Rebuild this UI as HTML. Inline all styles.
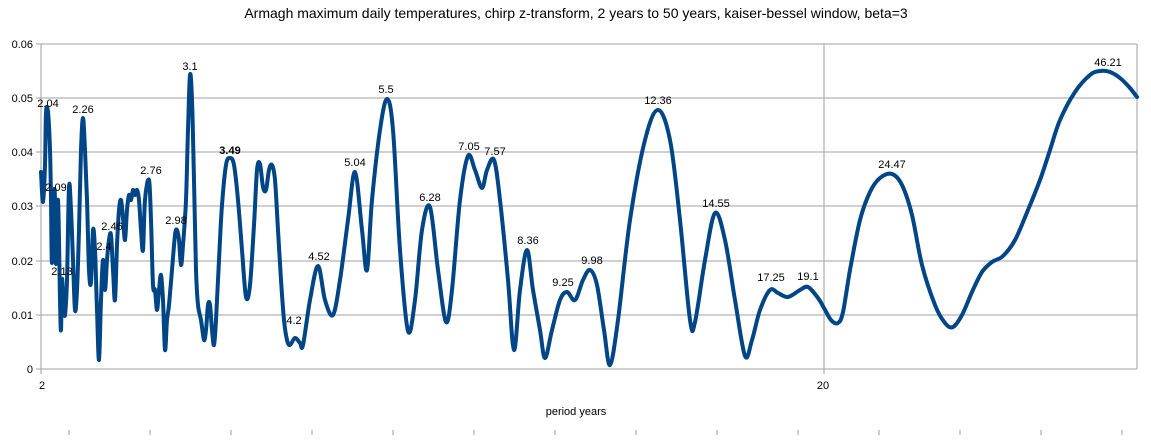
<!DOCTYPE html>
<html><head><meta charset="utf-8"><style>body{margin:0;background:#fff}</style></head><body>
<svg width="1151" height="435" xmlns="http://www.w3.org/2000/svg" font-family="Liberation Sans, sans-serif">
<rect width="1151" height="435" fill="#fff"/>
<text x="576" y="18" font-size="14" text-anchor="middle" fill="#000">Armagh maximum daily temperatures, chirp z-transform, 2 years to 50 years, kaiser-bessel window, beta=3</text>
<g stroke="#b3b3b3" stroke-width="1.3" fill="none">
<line x1="36" y1="44" x2="1137" y2="44"/><line x1="36" y1="98" x2="1137" y2="98"/><line x1="36" y1="152" x2="1137" y2="152"/><line x1="36" y1="206" x2="1137" y2="206"/><line x1="36" y1="261" x2="1137" y2="261"/><line x1="36" y1="315" x2="1137" y2="315"/><line x1="36" y1="369" x2="1137" y2="369"/>
<line x1="41" y1="44" x2="41" y2="374"/><line x1="824" y1="44" x2="824" y2="374"/><line x1="1137" y1="44" x2="1137" y2="369"/>
<path d="M69 430v5M150 430v5M231 430v5M312 430v5M393 430v5M474 430v5M555 430v5M636 430v5M717 430v5M798 430v5M879 430v5M960 430v5M1041 430v5M1122 430v5"/>
</g>
<g font-size="11" fill="#000" text-anchor="end">
<text x="33" y="48">0.06</text><text x="33" y="102">0.05</text><text x="33" y="156">0.04</text><text x="33" y="210">0.03</text><text x="33" y="265">0.02</text><text x="33" y="319">0.01</text><text x="33" y="373">0</text>
</g>
<g font-size="11" fill="#000" text-anchor="middle">
<text x="42" y="389">2</text><text x="823" y="389">20</text><text x="576" y="415">period years</text>
</g>
<polyline id="pl" fill="none" stroke="#004586" stroke-width="4" stroke-linejoin="round" stroke-linecap="round" points="41,172 43,202 45,165 46,113 48,112 50,150 51,200 52,263 54,195 55,200 56,264 58,200 60,300 61,330 62,280 63,295 64,305 65,315 67,280 69,187 71,210 73,260 75,310 77,290 79,230 81,150 83,118 85,150 87,200 89,270 91,282 93,230 95,250 97,310 99,360 101,300 103,260 105,290 107,260 109,240 111,235 113,270 115,300 117,245 119,210 121,200 123,218 125,240 127,210 129,195 131,200 133,190 135,195 137,190 139,200 141,230 143,250 145,200 149,180 151,220 153,285 155,290 157,310 159,290 161,275 163,300 165,350 167,320 169,305 172,270 175,235 177,230 179,240 181,265 183,245 186,200 188,130 190,75 192,100 194,180 196,270 198,305 201,320 204,340 206,330 208,305 210,305 212,330 214,345 216,320 219,260 222,205 226,165 230,158 234,165 238,200 242,250 246,297 250,285 254,225 257,170 260,164 263,187 266,190 269,170 272,165 275,180 278,230 281,280 284,320 287,340 290,345 295,338 300,343 303,345 310,300 318,266 325,300 333,315 340,280 348,220 355,172 362,230 367,270 372,200 380,130 387,99 393,130 400,250 408,331 415,300 422,230 430,207 438,270 446,322 452,290 460,200 468,156 475,170 482,188 487,170 494,160 500,200 508,280 514,350 520,290 527,250 533,290 540,330 545,358 552,330 560,300 567,292 575,300 583,280 590,270 597,285 604,330 610,365 618,320 630,220 645,140 658,110 670,140 680,220 690,320 695,322 705,260 715,213 725,240 735,300 745,356 752,340 760,310 770,290 778,293 788,297 800,290 808,287 818,298 824,308 831,320 838,323 843,312 850,270 860,220 870,192 880,178 892,174 902,185 912,215 922,265 935,305 945,323 953,327 962,315 972,292 982,272 992,262 1003,256 1015,240 1028,210 1040,180 1050,150 1060,120 1075,92 1090,75 1100,71 1110,72 1120,78 1130,88 1137,97"/>
<g font-size="11" fill="#000" text-anchor="middle">
<text x="48" y="107">2.04</text><text x="56" y="191">2.09</text><text x="62" y="275">2.13</text><text x="83" y="113">2.26</text><text x="112" y="230">2.46</text><text x="104" y="250">2.4</text><text x="151" y="174">2.76</text><text x="176" y="224">2.98</text><text x="190" y="70">3.1</text><text x="230" y="154" font-weight="bold">3.49</text><text x="294" y="324">4.2</text><text x="319" y="260">4.52</text><text x="355" y="166">5.04</text><text x="386" y="93">5.5</text><text x="430" y="201">6.28</text><text x="469" y="150">7.05</text><text x="495" y="155">7.57</text><text x="528" y="244">8.36</text><text x="563" y="286">9.25</text><text x="592" y="264">9.98</text><text x="658" y="104">12.36</text><text x="716" y="207">14.55</text><text x="771" y="281">17.25</text><text x="808" y="280">19.1</text><text x="892" y="168">24.47</text><text x="1108" y="66">46.21</text>
</g>
</svg>
<script>
(function(){
var pl=document.getElementById('pl');
var p=pl.getAttribute('points').trim().split(/\s+/).map(function(s){return s.split(',').map(Number);});
var d='M'+p[0][0]+' '+p[0][1];
for(var i=0;i<p.length-1;i++){
var a=p[i-1]||p[i],b=p[i],c=p[i+1],e=p[i+2]||c;
var c1x=b[0]+(c[0]-a[0])/6,c1y=b[1]+(c[1]-a[1])/6,c2x=c[0]-(e[0]-b[0])/6,c2y=c[1]-(e[1]-b[1])/6;
d+=' C'+c1x.toFixed(1)+' '+c1y.toFixed(1)+' '+c2x.toFixed(1)+' '+c2y.toFixed(1)+' '+c[0]+' '+c[1];
}
var path=document.createElementNS('http://www.w3.org/2000/svg','path');
['fill','stroke','stroke-width','stroke-linejoin','stroke-linecap'].forEach(function(k){path.setAttribute(k,pl.getAttribute(k));});
path.setAttribute('d',d);
pl.parentNode.replaceChild(path,pl);
})();
</script>
</body></html>
